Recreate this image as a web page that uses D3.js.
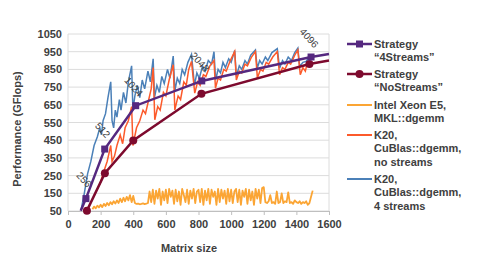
<!DOCTYPE html>
<html>
<head>
<meta charset="utf-8">
<script src="https://cdn.jsdelivr.net/npm/d3@7"></script>
<style>
  body { margin: 0; background: #fff; }
  text { font-family: "Liberation Sans", Arial, sans-serif; }
</style>
</head>
<body>
<div id="chart_area"></div>
<script>
// data
var strat4Sizes = [78, 110, 225, 415, 820, 1490, 1600];
var strat4Perf = [52, 120, 400, 645, 785, 920, 937];
var strat4Marker = [false, true, true, true, true, true, false];
var strat4Labels = ["", "256", "512", "1024", "2048", "4096", ""];

var stratNoSizes = [116, 226, 400, 818, 1480, 1600];
var stratNoPerf = [52, 263, 448, 712, 880, 900];
var stratNoMarker = [true, true, true, true, true, false];

var k20StreamsSizes = [80, 100, 120, 140, 160, 180, 195, 205, 215, 230, 245, 262, 270, 280, 290, 300, 315, 325, 340, 355, 370, 390, 398, 410, 425, 440, 455, 470, 490, 505, 522, 530, 545, 560, 575, 590, 610, 625, 645, 655, 670, 685, 700, 715, 735, 757, 775, 790, 805, 825, 840, 860, 880, 895, 905, 920, 935, 950, 965, 985, 1000, 1022, 1032, 1050, 1065, 1085, 1100, 1120, 1149, 1160, 1175, 1190, 1210, 1225, 1250, 1283, 1297, 1315, 1330, 1350, 1370, 1390, 1409, 1420, 1440, 1460, 1480];
var k20StreamsPerf = [55, 150, 260, 330, 420, 470, 520, 480, 560, 600, 690, 780, 560, 520, 620, 580, 680, 620, 720, 660, 780, 870, 620, 700, 760, 690, 790, 740, 840, 780, 910, 690, 760, 720, 810, 770, 850, 800, 925, 730, 800, 770, 850, 820, 890, 935, 760, 830, 800, 870, 840, 900, 880, 950, 790, 850, 830, 890, 860, 910, 890, 957, 810, 870, 850, 900, 880, 930, 960, 857, 900, 880, 920, 900, 945, 967, 857, 900, 880, 920, 900, 945, 970, 867, 890, 895, 923];

var k20NoSizes = [195, 215, 240, 262, 270, 285, 300, 320, 335, 350, 370, 390, 398, 420, 440, 460, 475, 495, 510, 522, 532, 550, 565, 585, 600, 620, 645, 655, 675, 690, 710, 725, 740, 757, 777, 795, 810, 830, 845, 870, 895, 904, 920, 935, 955, 970, 995, 1022, 1032, 1050, 1065, 1085, 1100, 1125, 1149, 1161, 1180, 1195, 1215, 1230, 1255, 1283, 1297, 1315, 1330, 1350, 1365, 1390, 1409, 1424, 1440, 1455, 1465, 1481];
var k20NoPerf = [200, 260, 330, 420, 330, 360, 420, 480, 430, 520, 560, 640, 420, 520, 560, 620, 600, 680, 740, 860, 565, 640, 620, 720, 700, 790, 876, 621, 700, 680, 780, 760, 850, 895, 716, 780, 760, 820, 810, 870, 900, 744, 800, 790, 850, 840, 900, 951, 790, 840, 830, 880, 870, 920, 951, 801, 850, 840, 890, 880, 920, 951, 820, 860, 850, 890, 880, 930, 960, 820, 860, 840, 880, 895];

// Intel MKL sampled every 10 from size 150
var mklStart = 150, mklStep = 10;
var mklPerf = [60, 75, 65, 80, 70, 85, 72, 90, 78, 95, 82, 100, 88, 105, 92, 110, 95, 120, 100, 125, 105, 130, 110, 140, 100, 135,
  95, 90, 92, 88, 90, 93, 89, 91, 95,
  160, 100, 170, 90, 165, 120, 175, 85, 160, 110, 170, 95, 175, 130, 165, 90, 170, 105, 160, 85, 175, 140, 100, 170, 90, 165, 120, 175, 95, 160,
  170, 100, 175, 85, 165, 110, 175, 90, 170, 130, 160, 85, 175, 100, 170, 120, 165, 90, 175, 105, 170, 95, 160, 175, 100, 170, 85, 165, 130, 175,
  90, 170, 110, 160, 85, 175, 120, 170, 95, 180, 185,
  100, 95, 105, 140, 95, 100, 90, 160, 95, 100, 150, 95, 105, 100, 155, 95, 100, 90, 110, 100, 95, 105, 90, 100, 95, 105, 85, 95, 130, 165];

var xTicks = [0, 200, 400, 600, 800, 1000, 1200, 1400, 1600];
var yTicks = [50, 150, 250, 350, 450, 550, 650, 750, 850, 950, 1050];

var legendNames = [
  ["Strategy", "\u201c4Streams\u201d"],
  ["Strategy", "\u201cNoStreams\u201d"],
  ["Intel Xeon E5,", "MKL::dgemm"],
  ["K20,", "CuBlas::dgemm,", "no streams"],
  ["K20,", "CuBlas::dgemm,", "4 streams"]
];

var cPurple = "#55287f", cMaroon = "#7d0a2e", cOrange = "#fba534", cRed = "#fc5a2b", cBlue = "#4b80b8";
var textCol = "#404040";

// set the dimensions and margins of the graph
var margin = { top: 34, right: 149, bottom: 62, left: 68 },
    width = 478 - margin.left - margin.right,
    height = 273 - margin.top - margin.bottom;

var root = d3.select("#chart_area")
    .append("svg")
    .attr("width", 478)
    .attr("height", 273);

var svg = root.append("g")
    .attr("transform", "translate(" + margin.left + "," + margin.top + ")");

var x = d3.scaleLinear().domain([0, 1600]).range([0, width]);
var y = d3.scaleLinear().domain([50, 1050]).range([height, 0]);

// gridlines
svg.append("g")
    .selectAll("line")
    .data(yTicks)
    .enter()
    .append("line")
    .attr("x1", 0)
    .attr("x2", width)
    .attr("y1", function (d) { return y(d); })
    .attr("y2", function (d) { return y(d); })
    .attr("stroke", "#dcdcdc")
    .attr("stroke-width", 1);

svg.append("line")
    .attr("x1", x(0)).attr("x2", x(0))
    .attr("y1", 0).attr("y2", height)
    .attr("stroke", "#dcdcdc");
svg.append("line")
    .attr("x1", x(1600)).attr("x2", x(1600))
    .attr("y1", 0).attr("y2", height)
    .attr("stroke", "#dcdcdc");

// X axis
var xAxis = svg.append("g")
    .attr("transform", "translate(0," + height + ")")
    .call(d3.axisBottom(x).tickValues(xTicks).tickFormat(d3.format("d")).tickSize(4).tickPadding(5));
xAxis.select(".domain").attr("stroke", "#bfbfbf");
xAxis.selectAll(".tick line").attr("stroke", "#bfbfbf");
xAxis.selectAll("text")
    .attr("fill", textCol)
    .style("font-size", "11px")
    .style("font-weight", "bold")
    .style("font-family", "'Liberation Sans', Arial, sans-serif");

// Y axis
var yAxis = svg.append("g")
    .call(d3.axisLeft(y).tickValues(yTicks).tickFormat(d3.format("d")).tickSize(0).tickPadding(6));
yAxis.select(".domain").remove();
yAxis.selectAll("text")
    .attr("fill", textCol)
    .style("font-size", "11px")
    .style("font-weight", "bold")
    .style("font-family", "'Liberation Sans', Arial, sans-serif");

root.append("text")
    .attr("x", 189)
    .attr("y", 252)
    .attr("text-anchor", "middle")
    .attr("fill", textCol)
    .style("font-size", "11px")
    .style("font-weight", "bold")
    .text("Matrix size");

root.append("text")
    .attr("transform", "translate(21,129)rotate(-90)")
    .attr("text-anchor", "middle")
    .attr("fill", textCol)
    .style("font-size", "11px")
    .style("font-weight", "bold")
    .text("Performance (GFlops)");

function pairs(xs, ys) {
    return xs.map(function (d, i) { return { s: d, v: ys[i] }; });
}
var line = d3.line()
    .x(function (d) { return x(d.s); })
    .y(function (d) { return y(d.v); });

var mklData = mklPerf.map(function (v, i) { return { s: mklStart + i * mklStep, v: v }; });
var k20Streams = pairs(k20StreamsSizes, k20StreamsPerf);
var k20No = pairs(k20NoSizes, k20NoPerf);
var strat4 = pairs(strat4Sizes, strat4Perf);
var stratNo = pairs(stratNoSizes, stratNoPerf);

// Lines
svg.append("path").datum(mklData)
    .attr("fill", "none").attr("stroke", cOrange).attr("stroke-width", 1.8)
    .attr("stroke-linejoin", "round")
    .attr("d", line);
svg.append("path").datum(k20Streams)
    .attr("fill", "none").attr("stroke", cBlue).attr("stroke-width", 1.5)
    .attr("d", line);
svg.append("path").datum(k20No)
    .attr("fill", "none").attr("stroke", cRed).attr("stroke-width", 1.5)
    .attr("d", line);
svg.append("path").datum(stratNo)
    .attr("fill", "none").attr("stroke", cMaroon).attr("stroke-width", 2.5)
    .attr("d", line);
svg.append("path").datum(strat4)
    .attr("fill", "none").attr("stroke", cPurple).attr("stroke-width", 2.5)
    .attr("d", line);

// markers
svg.selectAll("mycircle")
    .data(stratNo.filter(function (d, i) { return stratNoMarker[i]; }))
    .enter()
    .append("circle")
    .attr("cx", function (d) { return x(d.s); })
    .attr("cy", function (d) { return y(d.v); })
    .attr("r", 4)
    .style("fill", cMaroon);

svg.selectAll("mysquare")
    .data(strat4.filter(function (d, i) { return strat4Marker[i]; }))
    .enter()
    .append("rect")
    .attr("x", function (d) { return x(d.s) - 3.5; })
    .attr("y", function (d) { return y(d.v) - 3.5; })
    .attr("width", 7)
    .attr("height", 7)
    .style("fill", cPurple);

// size labels on the 4Streams points
svg.selectAll("mylabel")
    .data(strat4.filter(function (d, i) { return strat4Labels[i] !== ""; }))
    .enter()
    .append("text")
    .attr("transform", function (d) {
        return "translate(" + (x(d.s) - 2) + "," + (y(d.v) - 19) + ")rotate(48)";
    })
    .attr("text-anchor", "middle")
    .attr("dy", "0.35em")
    .attr("fill", textCol)
    .style("font-size", "10px")
    .text(function (d) { return strat4Labels[strat4Sizes.indexOf(d.s)]; });

// legend
var legCols = [cPurple, cMaroon, cOrange, cRed, cBlue];
var legY = [44, 74, 105, 135, 179];
var leg = root.append("g");
legendNames.forEach(function (lines, i) {
    var g = leg.append("g").attr("transform", "translate(0," + legY[i] + ")");
    g.append("line")
        .attr("x1", 347).attr("x2", 372)
        .attr("y1", 0).attr("y2", 0)
        .attr("stroke", legCols[i])
        .attr("stroke-width", i < 2 ? 2.5 : 2);
    if (i === 0) {
        g.append("rect").attr("x", 356).attr("y", -3.5).attr("width", 7).attr("height", 7).attr("fill", cPurple);
    }
    if (i === 1) {
        g.append("circle").attr("cx", 359.5).attr("cy", 0).attr("r", 4).attr("fill", cMaroon);
    }
    lines.forEach(function (t, j) {
        g.append("text")
            .attr("x", 374)
            .attr("y", j * 13.3 + 4)
            .attr("fill", textCol)
            .style("font-size", "11px")
            .style("font-weight", "bold")
            .text(t);
    });
});
</script>
</body>
</html>
